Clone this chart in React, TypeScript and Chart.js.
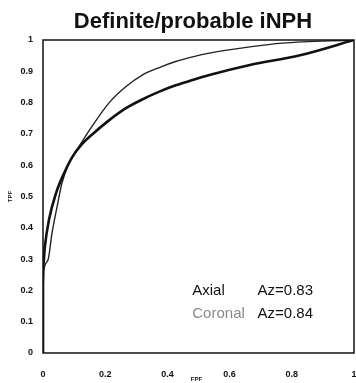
import React, { useEffect, useRef } from "react";
import { Chart, registerables } from "chart.js";
Chart.register(...registerables);

const TITLE = "Definite/probable iNPH";
const X_TITLE = "FPF";
const Y_TITLE = "TPF";
const seriesNames = ["Axial", "Coronal"];
const azLabels = ["Az=0.83", "Az=0.84"];

const axialFPF = [0, 0, 0.006, 0.019, 0.042, 0.068, 0.094, 0.123, 0.158, 0.213, 0.268, 0.319, 0.374, 0.429, 0.481, 0.535, 0.665, 0.83, 1];
const axialTPF = [0, 0.27, 0.34, 0.425, 0.511, 0.575, 0.626, 0.665, 0.698, 0.744, 0.783, 0.81, 0.835, 0.856, 0.872, 0.888, 0.92, 0.952, 1];

const coronalFPF = [0, 0, 0.003, 0.016, 0.029, 0.045, 0.061, 0.084, 0.116, 0.158, 0.213, 0.268, 0.319, 0.374, 0.429, 0.481, 0.535, 0.665, 0.77, 1];
const coronalTPF = [0, 0.2, 0.265, 0.297, 0.383, 0.466, 0.543, 0.607, 0.66, 0.725, 0.8, 0.852, 0.888, 0.912, 0.932, 0.946, 0.958, 0.978, 0.99, 1];

const xTickValues = [0, 0.2, 0.4, 0.6, 0.8, 1];
const yTickValues = [0, 0.1, 0.2, 0.3, 0.4, 0.5, 0.6, 0.7, 0.8, 0.9, 1];

const FONT = "'Liberation Sans', Arial, Helvetica, sans-serif";

function fmt(v: number) {
  return Number(v.toFixed(1)).toString();
}

const textPlugin = {
  id: "textPlugin",
  afterDraw(chart: any) {
    const { ctx, chartArea, scales } = chart;
    const x = scales.x;
    const y = scales.y;
    ctx.save();
    ctx.strokeStyle = "#111";
    ctx.lineWidth = 1.5;
    ctx.strokeRect(chartArea.left, chartArea.top, chartArea.right - chartArea.left, chartArea.bottom - chartArea.top);
    ctx.fillStyle = "#111";
    ctx.textAlign = "center";
    ctx.textBaseline = "middle";
    ctx.font = `bold 22px ${FONT}`;
    ctx.fillText(TITLE, 193, 22);
    ctx.font = `bold 6px ${FONT}`;
    ctx.fillText(X_TITLE, x.getPixelForValue(0.5) - 2, chartArea.bottom + 26);
    ctx.save();
    ctx.translate(10, y.getPixelForValue(0.5));
    ctx.rotate(-Math.PI / 2);
    ctx.fillText(Y_TITLE, 0, 0);
    ctx.restore();
    ctx.textAlign = "left";
    ctx.font = `15px ${FONT}`;
    ctx.fillStyle = "#111";
    ctx.fillText(seriesNames[0], x.getPixelForValue(0.48), y.getPixelForValue(0.2));
    ctx.fillText(azLabels[0], x.getPixelForValue(0.69), y.getPixelForValue(0.2));
    ctx.fillStyle = "#8a8a8a";
    ctx.fillText(seriesNames[1], x.getPixelForValue(0.48), y.getPixelForValue(0.125));
    ctx.fillStyle = "#111";
    ctx.fillText(azLabels[1], x.getPixelForValue(0.69), y.getPixelForValue(0.125));
    ctx.restore();
  },
};

export default function App() {
  const ref = useRef<HTMLCanvasElement>(null);
  useEffect(() => {
    document.body.style.margin = "0";
    const chart = new Chart(ref.current!, {
      type: "scatter",
      data: {
        datasets: [
          {
            label: seriesNames[0],
            data: axialFPF.map((v, i) => ({ x: v, y: axialTPF[i] })),
            showLine: true,
            borderColor: "#111",
            borderWidth: 2.6,
            pointRadius: 0,
            cubicInterpolationMode: "monotone",
          },
          {
            label: seriesNames[1],
            data: coronalFPF.map((v, i) => ({ x: v, y: coronalTPF[i] })),
            showLine: true,
            borderColor: "#222",
            borderWidth: 1.4,
            pointRadius: 0,
            cubicInterpolationMode: "monotone",
          },
        ],
      },
      options: {
        responsive: false,
        animation: false,
        layout: { padding: { top: 40, right: 2, left: 0, bottom: 0 } },
        plugins: { legend: { display: false }, tooltip: { enabled: false }, title: { display: false } },
        scales: {
          x: {
            type: "linear",
            min: 0,
            max: 1,
            grid: { display: false, drawTicks: false },
            border: { display: false },
            afterBuildTicks: (s: any) => { s.ticks = xTickValues.map((v) => ({ value: v })); },
            afterFit: (s: any) => { s.height = 30; s.paddingLeft = 0; s.paddingRight = 0; },
            ticks: {
              color: "#111",
              font: { family: FONT, size: 9, weight: "bold" },
              padding: 16,
              maxRotation: 0,
              autoSkip: false,
              callback: (v: any) => fmt(Number(v)),
            },
          },
          y: {
            type: "linear",
            min: 0,
            max: 1,
            grid: { display: false, drawTicks: false },
            border: { display: false },
            afterBuildTicks: (s: any) => { s.ticks = yTickValues.map((v) => ({ value: v })); },
            afterFit: (s: any) => { s.width = 43; s.paddingTop = 0; s.paddingBottom = 0; },
            ticks: {
              color: "#111",
              font: { family: FONT, size: 9, weight: "bold" },
              padding: 10,
              autoSkip: false,
              callback: (v: any) => fmt(Number(v)),
            },
          },
        },
      },
      plugins: [textPlugin],
    } as any);
    return () => chart.destroy();
  }, []);
  return (
    <div style={{ width: 356, height: 383, background: "#fff" }}>
      <canvas ref={ref} width={356} height={383} />
    </div>
  );
}
